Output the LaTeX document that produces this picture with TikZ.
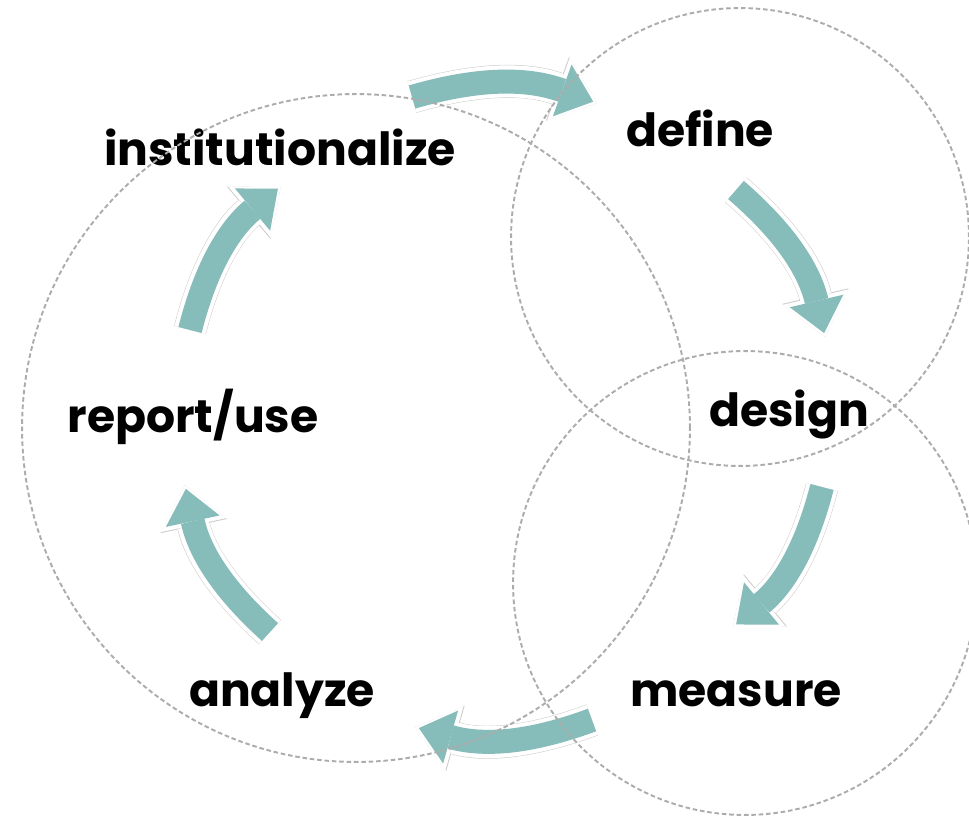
\documentclass[tikz,border=0pt]{standalone}
\usepackage{fontspec}
\setmainfont{Poppins}
\usetikzlibrary{arrows.meta}
\definecolor{cycleteal}{HTML}{86BCB9}
\tikzset{
    stagenode/.style = {anchor=base, inner sep=0pt, font=\bfseries\fontsize{26}{30}\selectfont},
    ringline/.style = {draw=gray!65, line width=1.1pt, dash pattern=on 2.6pt off 1.6pt},
    arrowshade/.style = {line width=0.66cm, draw=black, opacity=0.2, -{Triangle[width=1.36cm,length=0.84cm,line width=0pt]}},
    arrowedge/.style = {line width=0.64cm, draw=white, -{Triangle[width=1.34cm,length=0.82cm,line width=0pt]}},
    arrowbody/.style = {line width=0.48cm, draw=cycleteal, shorten >=0.08cm, -{Triangle[width=1.1cm,length=0.66cm,line width=0pt]}},
    cyclearrow/.style = {bend left=18}
}

\begin{document}
\begin{tikzpicture}[x=0.02cm, y=-0.02cm]
  \useasboundingbox (0,0) rectangle (969,821);

  % arrow ends
  \coordinate (instout) at (412,97);   \coordinate (defin)  at (597,103);
  \coordinate (defout)  at (736,190);  \coordinate (desin)  at (825,337);
  \coordinate (desout)  at (822,487);  \coordinate (meain)  at (733,627);
  \coordinate (meaout)  at (592,720);  \coordinate (anain)  at (415,727);
  \coordinate (anaout)  at (270,632);  \coordinate (repin)  at (185,485);
  \coordinate (repout)  at (190,330);  \coordinate (instin) at (281,186);

  \begin{scope}[shift={(5,6)}]
    \foreach \a/\b in {instout/defin, defout/desin, desout/meain, meaout/anain, anaout/repin, repout/instin}
      \draw[arrowshade] (\a) to[cyclearrow] (\b);
  \end{scope}
  \foreach \a/\b in {instout/defin, defout/desin, desout/meain, meaout/anain, anaout/repin, repout/instin}
    \draw[arrowedge] (\a) to[cyclearrow] (\b);
  \foreach \a/\b in {instout/defin, defout/desin, desout/meain, meaout/anain, anaout/repin, repout/instin}
    \draw[arrowbody] (\a) to[cyclearrow] (\b);

  \node[stagenode] (inst) at (280,165) {institutionalize};
  \node[stagenode] (def)  at (700,146) {define};
  \node[stagenode] (des)  at (789,426) {design};
  \node[stagenode] (rep)  at (193,432) {report/use};
  \node[stagenode] (ana)  at (282,706) {analyze};
  \node[stagenode] (mea)  at (736,706) {measure};

  % circles
  \coordinate (cbig) at (356,428);
  \coordinate (ctop) at (740,237);
  \coordinate (cbot) at (745,583);
  \draw[ringline] (cbig) circle (6.68cm);
  \draw[ringline] (ctop) circle (4.58cm);
  \draw[ringline] (cbot) circle (4.64cm);
\end{tikzpicture}
\end{document}
